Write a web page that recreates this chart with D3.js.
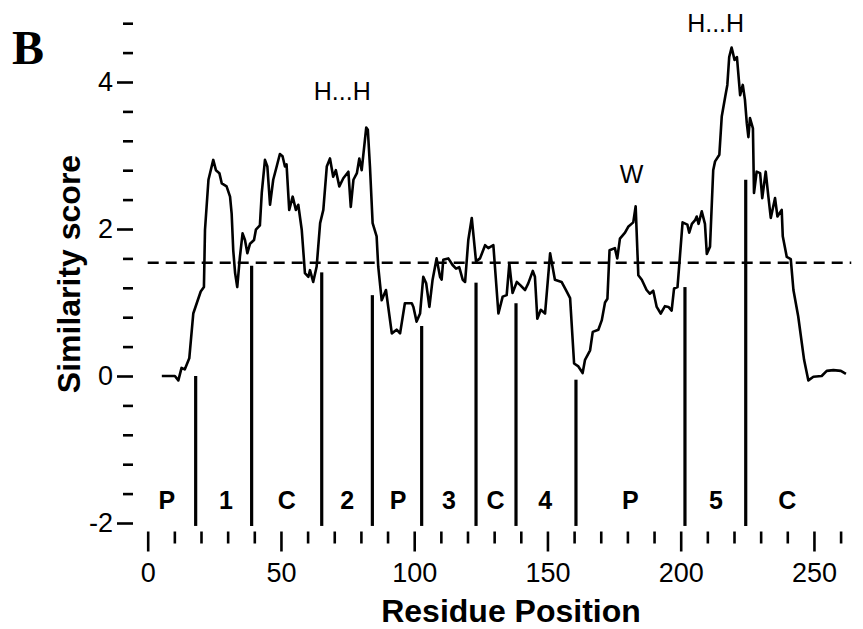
<!DOCTYPE html>
<html>
<head>
<meta charset="utf-8">
<script src="https://cdn.jsdelivr.net/npm/d3@7"></script>
<style>
  body { margin: 0; background: #fff; }
  text { font-family: "Liberation Sans", Arial, sans-serif; fill: #000; }
  text.panel { font-family: "Liberation Serif", "Times New Roman", serif; }
</style>
</head>
<body>
<div id="svg-container"></div>
<script>
// similarity score profile, [residue, score]
const profile = [
  [5.3, 0], [10.2, 0], [11.5, -0.06], [12.7, 0.11], [13.9, 0.09], [15.6, 0.24], [17.1, 0.85], [18.4, 0.99],
  [19.9, 1.15], [21.1, 1.21], [21.5, 1.99], [22.8, 2.67], [24.6, 2.94], [25.6, 2.80], [26.9, 2.76], [27.8, 2.62],
  [29.6, 2.58], [30.9, 2.44], [31.5, 2.21], [32.1, 1.71], [32.8, 1.40], [33.6, 1.21], [34.6, 1.62], [35.6, 1.94],
  [36.5, 1.85], [37.4, 1.67], [38.4, 1.80], [39.9, 1.85], [40.6, 1.99], [42.1, 2.05], [42.8, 2.49], [44.0, 2.94],
  [44.9, 2.85], [45.9, 2.33], [47.1, 2.67], [48.4, 2.85], [49.6, 3.02], [50.6, 2.99], [51.5, 2.85], [52.1, 2.88],
  [53.1, 2.26], [54.4, 2.44], [55.6, 2.26], [56.5, 2.33], [57.8, 1.99], [59.0, 1.40], [60.3, 1.35], [60.9, 1.44],
  [62.1, 1.28], [63.4, 1.49], [64.7, 2.08], [65.9, 2.26], [67.2, 2.85], [68.4, 2.96], [69.6, 2.71], [70.6, 2.80],
  [71.9, 2.58], [73.4, 2.69], [75.3, 2.78], [76.2, 2.30], [77.2, 2.67], [78.5, 2.76], [79.4, 2.96], [80.3, 2.80],
  [81.5, 3.21], [82.0, 3.38], [82.6, 3.35], [83.4, 2.85], [84.4, 2.08], [85.9, 1.90], [86.5, 1.49], [87.8, 1.03],
  [89.4, 1.17], [91.6, 0.58], [93.4, 0.63], [94.7, 0.58], [96.5, 0.99], [97.7, 0.99], [99.1, 0.99], [99.7, 0.94],
  [100.9, 0.74], [102.2, 0.85], [103.4, 1.35], [104.5, 1.26], [105.7, 0.94], [106.9, 1.31], [108.4, 1.60], [109.7, 1.35],
  [110.3, 1.31], [110.9, 1.58], [112.8, 1.60], [114.4, 1.51], [115.7, 1.46], [116.9, 1.48], [118.2, 1.31], [119.1, 1.28],
  [120.3, 1.85], [121.6, 2.15], [123.2, 1.56], [124.7, 1.60], [126.6, 1.78], [127.8, 1.74], [129.7, 1.78], [131.6, 0.85],
  [133.2, 1.08], [134.7, 1.10], [135.7, 1.53], [136.9, 1.13], [138.5, 1.28], [139.7, 1.24], [141.6, 1.17], [142.8, 1.26],
  [144.5, 1.43], [145.3, 1.35], [146.2, 0.78], [147.5, 0.90], [149.1, 0.85], [151.0, 1.67], [152.8, 1.31], [155.3, 1.28],
  [157.2, 1.15], [158.5, 1.06], [160.0, 0.17], [161.6, 0.13], [163.2, 0.04], [164.1, 0.22], [166.0, 0.35], [167.0, 0.60],
  [169.1, 0.63], [170.4, 0.76], [171.6, 1.00], [172.5, 1.05], [173.3, 1.71], [175.3, 1.74], [176.2, 1.60], [177.2, 1.87],
  [179.1, 1.95], [180.3, 2.03], [182.2, 2.09], [183.1, 2.31], [184.1, 1.37], [185.4, 1.31], [187.2, 1.17], [188.4, 1.12],
  [189.7, 1.16], [191.0, 0.94], [192.5, 0.85], [194.1, 0.95], [195.4, 0.94], [196.6, 0.89], [197.5, 1.19], [198.8, 1.21],
  [199.5, 1.53], [200.7, 2.09], [202.5, 2.06], [203.2, 1.95], [204.2, 2.07], [205.4, 2.12], [206.0, 2.17], [206.7, 2.07],
  [207.9, 2.24], [209.1, 2.07], [209.8, 1.66], [211.0, 1.76], [212.2, 2.80], [212.9, 2.92], [214.5, 3.01], [215.4, 3.53],
  [216.7, 3.80], [217.5, 3.96], [218.2, 4.34], [219.1, 4.47], [219.5, 4.41], [220.2, 4.30], [221.1, 4.34], [222.3, 3.82],
  [223.3, 3.96], [224.1, 3.76], [224.8, 3.44], [225.4, 3.25], [226.0, 3.51], [227.1, 3.37], [227.5, 2.49], [228.5, 2.78],
  [229.8, 2.76], [230.6, 2.42], [231.9, 2.78], [232.9, 2.44], [233.8, 2.15], [235.4, 2.42], [236.3, 2.17], [237.9, 2.26],
  [238.3, 1.90], [239.8, 1.62], [241.3, 1.59], [242.3, 1.17], [244.1, 0.81], [246.3, 0.22], [247.9, -0.06], [249.8, -0.01],
  [252.9, 0.0], [254.8, 0.07], [257.3, 0.08], [260.1, 0.07], [262.0, 0.03]
]

const threshold = 1.54

// region boundaries (residue, top of bar)
const boundaryX = [18.0, 39.0, 65.3, 84.3, 102.8, 123.2, 138.2, 160.7, 201.6, 224.4]
const boundaryTop = [0, 1.50, 1.41, 1.10, 0.68, 1.27, 0.99, -0.05, 1.21, 2.67]
const boundaryBottom = -2.04

const regionNames = ["P", "1", "C", "2", "P", "3", "C", "4", "P", "5", "C"]
const regionPos = [7.2, 29.4, 52.2, 74.9, 94.0, 113.0, 130.5, 149.2, 181.1, 213.2, 240.0]
const regionLabelY = -1.81

const noteText = ["H...H", "W", "H...H"]
const noteX = [73.0, 181.6, 213.1]
const noteY = [3.755, 2.62, 4.68]

const xTicks = d3.range(0, 261, 10)
const xMajor = [0, 50, 100, 150, 200, 250]
const yTicks = [-2, -1.6, -1.2, -0.8, -0.4, 0, 0.4, 0.8, 1.2, 1.6, 2, 2.4, 2.8, 3.2, 3.6, 4, 4.4, 4.8]
const yMajor = [-2, 0, 2, 4]

const width = 863
const height = 629

const svg = d3.select("#svg-container")
    .append("svg")
    .attr("width", width)
    .attr("height", height)
    .style("background", "#fff")

const x = d3.scaleLinear().domain([0, 260]).range([147.7, 840.6])
const y = d3.scaleLinear().domain([-2, 4]).range([523, 82])

// y axis: tick marks only
const yAxis = svg.append("g")
    .attr("transform", "translate(133,0)")
    .call(d3.axisLeft(y).tickValues(yTicks).tickSize(10)
        .tickFormat((d) => yMajor.includes(d) ? String(d) : ""))
yAxis.select(".domain").remove()
yAxis.selectAll(".tick line")
    .attr("stroke-width", 2.6)
    .attr("x2", (d) => yMajor.includes(d) ? -16 : -10)
yAxis.selectAll(".tick text")
    .attr("x", -20)
    .attr("font-size", "27px")
    .attr("font-family", null)

// x axis
const xAxis = svg.append("g")
    .attr("transform", "translate(0,531.5)")
    .call(d3.axisBottom(x).tickValues(xTicks).tickSize(12)
        .tickFormat((d) => xMajor.includes(d) ? String(d) : ""))
xAxis.select(".domain").remove()
xAxis.selectAll(".tick line")
    .attr("stroke-width", 2.6)
    .attr("y2", (d) => xMajor.includes(d) ? 20 : 12)
xAxis.selectAll(".tick text")
    .attr("y", 50)
    .attr("dy", 0)
    .attr("font-size", "27px")
    .attr("font-family", null)

// threshold
svg.append("line")
    .attr("x1", x(0))
    .attr("x2", x(264))
    .attr("y1", y(threshold))
    .attr("y2", y(threshold))
    .attr("stroke", "#000")
    .attr("stroke-width", 2.4)
    .attr("stroke-dasharray", "11,7")

// region boundaries
svg.selectAll(".bound")
    .data(boundaryX)
    .enter()
    .append("line")
    .attr("class", "bound")
    .attr("x1", (d) => x(d))
    .attr("x2", (d) => x(d))
    .attr("y1", (d, i) => y(boundaryTop[i]))
    .attr("y2", y(boundaryBottom))
    .attr("stroke", "#000")
    .attr("stroke-width", 3.2)

// profile line
svg.append("path")
    .datum(profile)
    .attr("fill", "none")
    .attr("stroke", "#000")
    .attr("stroke-width", 2.6)
    .attr("stroke-linejoin", "round")
    .attr("d", d3.line().x((d) => x(d[0])).y((d) => y(d[1])))

// region labels
svg.selectAll(".region")
    .data(regionNames)
    .enter()
    .append("text")
    .attr("class", "region")
    .attr("x", (d, i) => x(regionPos[i]))
    .attr("y", y(regionLabelY))
    .attr("text-anchor", "middle")
    .attr("font-size", "25px")
    .attr("font-weight", "bold")
    .text((d) => d)

// annotations
svg.selectAll(".note")
    .data(noteText)
    .enter()
    .append("text")
    .attr("class", "note")
    .attr("x", (d, i) => x(noteX[i]))
    .attr("y", (d, i) => y(noteY[i]))
    .attr("text-anchor", "middle")
    .attr("font-size", "25px")
    .text((d) => d)

// axis titles
svg.append("text")
    .attr("x", 511)
    .attr("y", 621.5)
    .attr("text-anchor", "middle")
    .attr("font-size", "32px")
    .attr("font-weight", "bold")
    .text("Residue Position")

svg.append("text")
    .attr("transform", "translate(80,274) rotate(-90)")
    .attr("text-anchor", "middle")
    .attr("font-size", "32px")
    .attr("font-weight", "bold")
    .text("Similarity score")

svg.append("text")
    .attr("class", "panel")
    .attr("x", 12)
    .attr("y", 64)
    .attr("font-size", "48px")
    .attr("font-weight", "bold")
    .text("B")
</script>
</body>
</html>
